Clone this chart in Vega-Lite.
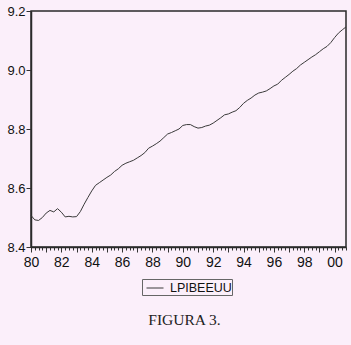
{
  "$schema": "https://vega.github.io/schema/vega-lite/v6.json",
  "autosize": "none",
  "width": 315,
  "height": 236,
  "padding": {"left": 31, "top": 11, "right": 5, "bottom": 98},
  "background": "#fbeffa",
  "config": {
    "view": {"stroke": "#2a2a2a", "strokeWidth": 1.5},
    "font": "Liberation Sans"
  },
  "title": {
    "text": "FIGURA 3.",
    "orient": "bottom",
    "anchor": "middle",
    "frame": "group",
    "font": "Liberation Serif",
    "fontSize": 15.5,
    "fontWeight": "normal",
    "color": "#222",
    "offset": 17,
    "dx": -4
  },
  "data": {
    "values": [
      {"t": 1980.00, "v": 8.507, "s": "LPIBEEUU"},
      {"t": 1980.25, "v": 8.492, "s": "LPIBEEUU"},
      {"t": 1980.50, "v": 8.490, "s": "LPIBEEUU"},
      {"t": 1980.75, "v": 8.500, "s": "LPIBEEUU"},
      {"t": 1981.00, "v": 8.515, "s": "LPIBEEUU"},
      {"t": 1981.25, "v": 8.524, "s": "LPIBEEUU"},
      {"t": 1981.50, "v": 8.519, "s": "LPIBEEUU"},
      {"t": 1981.75, "v": 8.530, "s": "LPIBEEUU"},
      {"t": 1982.00, "v": 8.518, "s": "LPIBEEUU"},
      {"t": 1982.25, "v": 8.502, "s": "LPIBEEUU"},
      {"t": 1982.50, "v": 8.504, "s": "LPIBEEUU"},
      {"t": 1982.75, "v": 8.502, "s": "LPIBEEUU"},
      {"t": 1983.00, "v": 8.503, "s": "LPIBEEUU"},
      {"t": 1983.25, "v": 8.520, "s": "LPIBEEUU"},
      {"t": 1983.50, "v": 8.545, "s": "LPIBEEUU"},
      {"t": 1983.75, "v": 8.568, "s": "LPIBEEUU"},
      {"t": 1984.00, "v": 8.590, "s": "LPIBEEUU"},
      {"t": 1984.25, "v": 8.609, "s": "LPIBEEUU"},
      {"t": 1984.50, "v": 8.618, "s": "LPIBEEUU"},
      {"t": 1984.75, "v": 8.627, "s": "LPIBEEUU"},
      {"t": 1985.00, "v": 8.636, "s": "LPIBEEUU"},
      {"t": 1985.25, "v": 8.644, "s": "LPIBEEUU"},
      {"t": 1985.50, "v": 8.656, "s": "LPIBEEUU"},
      {"t": 1985.75, "v": 8.665, "s": "LPIBEEUU"},
      {"t": 1986.00, "v": 8.677, "s": "LPIBEEUU"},
      {"t": 1986.25, "v": 8.684, "s": "LPIBEEUU"},
      {"t": 1986.50, "v": 8.689, "s": "LPIBEEUU"},
      {"t": 1986.75, "v": 8.694, "s": "LPIBEEUU"},
      {"t": 1987.00, "v": 8.702, "s": "LPIBEEUU"},
      {"t": 1987.25, "v": 8.710, "s": "LPIBEEUU"},
      {"t": 1987.50, "v": 8.720, "s": "LPIBEEUU"},
      {"t": 1987.75, "v": 8.735, "s": "LPIBEEUU"},
      {"t": 1988.00, "v": 8.742, "s": "LPIBEEUU"},
      {"t": 1988.25, "v": 8.750, "s": "LPIBEEUU"},
      {"t": 1988.50, "v": 8.759, "s": "LPIBEEUU"},
      {"t": 1988.75, "v": 8.771, "s": "LPIBEEUU"},
      {"t": 1989.00, "v": 8.783, "s": "LPIBEEUU"},
      {"t": 1989.25, "v": 8.788, "s": "LPIBEEUU"},
      {"t": 1989.50, "v": 8.794, "s": "LPIBEEUU"},
      {"t": 1989.75, "v": 8.800, "s": "LPIBEEUU"},
      {"t": 1990.00, "v": 8.812, "s": "LPIBEEUU"},
      {"t": 1990.25, "v": 8.815, "s": "LPIBEEUU"},
      {"t": 1990.50, "v": 8.815, "s": "LPIBEEUU"},
      {"t": 1990.75, "v": 8.808, "s": "LPIBEEUU"},
      {"t": 1991.00, "v": 8.803, "s": "LPIBEEUU"},
      {"t": 1991.25, "v": 8.805, "s": "LPIBEEUU"},
      {"t": 1991.50, "v": 8.810, "s": "LPIBEEUU"},
      {"t": 1991.75, "v": 8.813, "s": "LPIBEEUU"},
      {"t": 1992.00, "v": 8.820, "s": "LPIBEEUU"},
      {"t": 1992.25, "v": 8.829, "s": "LPIBEEUU"},
      {"t": 1992.50, "v": 8.838, "s": "LPIBEEUU"},
      {"t": 1992.75, "v": 8.848, "s": "LPIBEEUU"},
      {"t": 1993.00, "v": 8.851, "s": "LPIBEEUU"},
      {"t": 1993.25, "v": 8.857, "s": "LPIBEEUU"},
      {"t": 1993.50, "v": 8.862, "s": "LPIBEEUU"},
      {"t": 1993.75, "v": 8.873, "s": "LPIBEEUU"},
      {"t": 1994.00, "v": 8.887, "s": "LPIBEEUU"},
      {"t": 1994.25, "v": 8.897, "s": "LPIBEEUU"},
      {"t": 1994.50, "v": 8.905, "s": "LPIBEEUU"},
      {"t": 1994.75, "v": 8.915, "s": "LPIBEEUU"},
      {"t": 1995.00, "v": 8.922, "s": "LPIBEEUU"},
      {"t": 1995.25, "v": 8.925, "s": "LPIBEEUU"},
      {"t": 1995.50, "v": 8.929, "s": "LPIBEEUU"},
      {"t": 1995.75, "v": 8.937, "s": "LPIBEEUU"},
      {"t": 1996.00, "v": 8.946, "s": "LPIBEEUU"},
      {"t": 1996.25, "v": 8.952, "s": "LPIBEEUU"},
      {"t": 1996.50, "v": 8.965, "s": "LPIBEEUU"},
      {"t": 1996.75, "v": 8.975, "s": "LPIBEEUU"},
      {"t": 1997.00, "v": 8.985, "s": "LPIBEEUU"},
      {"t": 1997.25, "v": 8.996, "s": "LPIBEEUU"},
      {"t": 1997.50, "v": 9.005, "s": "LPIBEEUU"},
      {"t": 1997.75, "v": 9.017, "s": "LPIBEEUU"},
      {"t": 1998.00, "v": 9.026, "s": "LPIBEEUU"},
      {"t": 1998.25, "v": 9.035, "s": "LPIBEEUU"},
      {"t": 1998.50, "v": 9.044, "s": "LPIBEEUU"},
      {"t": 1998.75, "v": 9.052, "s": "LPIBEEUU"},
      {"t": 1999.00, "v": 9.062, "s": "LPIBEEUU"},
      {"t": 1999.25, "v": 9.072, "s": "LPIBEEUU"},
      {"t": 1999.50, "v": 9.080, "s": "LPIBEEUU"},
      {"t": 1999.75, "v": 9.093, "s": "LPIBEEUU"},
      {"t": 2000.00, "v": 9.110, "s": "LPIBEEUU"},
      {"t": 2000.25, "v": 9.125, "s": "LPIBEEUU"},
      {"t": 2000.50, "v": 9.136, "s": "LPIBEEUU"},
      {"t": 2000.75, "v": 9.146, "s": "LPIBEEUU"}
    ]
  },
  "mark": {"type": "line", "strokeWidth": 1, "interpolate": "linear"},
  "encoding": {
    "x": {
      "field": "t",
      "type": "quantitative",
      "scale": {"domain": [1980, 2000.75], "nice": false, "zero": false},
      "axis": {
        "title": null,
        "grid": false,
        "domainColor": "#2a2a2a",
        "domainWidth": 1.5,
        "values": [1980,1980.25,1980.5,1980.75,1981,1981.25,1981.5,1981.75,1982,1982.25,1982.5,1982.75,1983,1983.25,1983.5,1983.75,1984,1984.25,1984.5,1984.75,1985,1985.25,1985.5,1985.75,1986,1986.25,1986.5,1986.75,1987,1987.25,1987.5,1987.75,1988,1988.25,1988.5,1988.75,1989,1989.25,1989.5,1989.75,1990,1990.25,1990.5,1990.75,1991,1991.25,1991.5,1991.75,1992,1992.25,1992.5,1992.75,1993,1993.25,1993.5,1993.75,1994,1994.25,1994.5,1994.75,1995,1995.25,1995.5,1995.75,1996,1996.25,1996.5,1996.75,1997,1997.25,1997.5,1997.75,1998,1998.25,1998.5,1998.75,1999,1999.25,1999.5,1999.75,2000,2000.25,2000.5,2000.75],
        "labelExpr": "datum.value % 2 === 0 ? pad(datum.value % 100, 2, '0', 'left') : ''",
        "tickSize": {"condition": {"test": "datum.value % 1 === 0", "value": 5}, "value": 3},
        "tickColor": "#333",
        "tickWidth": 1,
        "labelFont": "Liberation Sans",
        "labelFontSize": 14,
        "labelColor": "#111",
        "labelPadding": 3,
        "labelDx": 2,
        "labelFlush": false,
        "labelOverlap": false
      }
    },
    "y": {
      "field": "v",
      "type": "quantitative",
      "scale": {"domain": [8.4, 9.2], "nice": false, "zero": false},
      "axis": {
        "title": null,
        "grid": false,
        "values": [8.4, 8.6, 8.8, 9.0, 9.2],
        "format": ".1f",
        "domainColor": "#2a2a2a",
        "domainWidth": 1.5,
        "tickSize": 5,
        "tickColor": "#333",
        "labelFont": "Liberation Sans",
        "labelFontSize": 13,
        "labelColor": "#111",
        "labelPadding": 1,
        "labelDy": -1,
        "labelFlush": false,
        "labelOverlap": false
      }
    },
    "color": {
      "field": "s",
      "type": "nominal",
      "scale": {"range": ["#3a3a3a"]},
      "legend": {
        "title": null,
        "orient": "none",
        "legendX": 111,
        "legendY": 268,
        "direction": "horizontal",
        "strokeColor": "#666",
        "fillColor": "#fbeffa",
        "padding": 0,
        "symbolType": "stroke",
        "symbolSize": 289,
        "symbolStrokeWidth": 1,
        "symbolOffset": 4,
        "labelFont": "Liberation Sans",
        "labelFontSize": 12.5,
        "labelColor": "#111",
        "labelOffset": 6
      }
    }
  }
}
